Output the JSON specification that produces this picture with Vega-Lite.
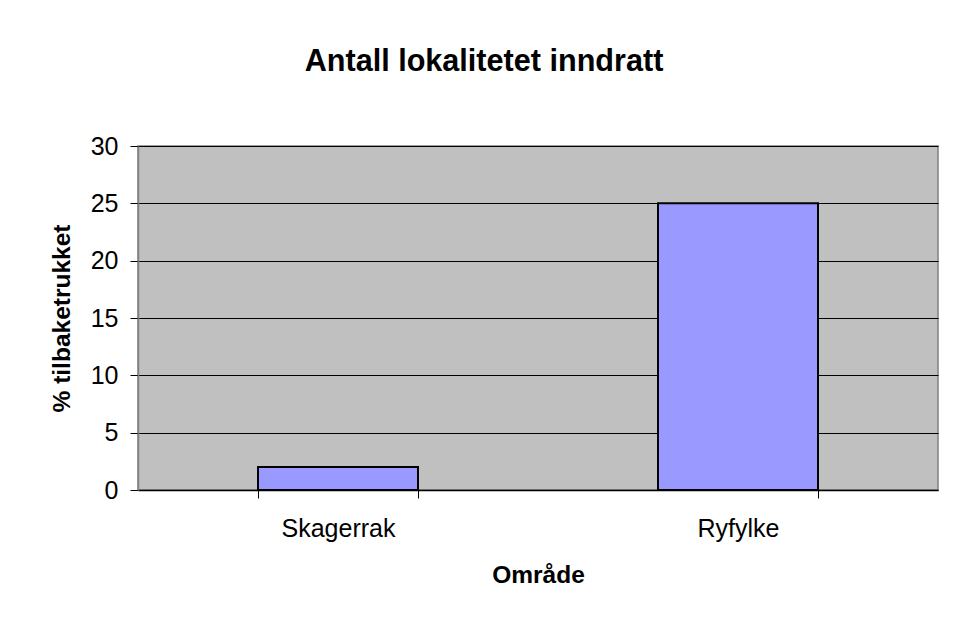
{
  "$schema": "https://vega.github.io/schema/vega-lite/v6.json",
  "autosize": "none",
  "width": 800,
  "height": 344,
  "padding": {"left": 138, "top": 146, "right": 24, "bottom": 132},
  "background": "white",
  "title": {
    "text": "Antall lokalitetet inndratt",
    "font": "Liberation Sans",
    "fontSize": 30.6,
    "fontWeight": "bold",
    "color": "black",
    "anchor": "middle",
    "dx": -54,
    "offset": 56
  },
  "config": {
    "view": {"fill": "#C0C0C0", "stroke": "#808080", "strokeWidth": 1.5},
    "axis": {
      "labelFont": "Liberation Sans",
      "titleFont": "Liberation Sans",
      "labelFontSize": 25,
      "titleFontSize": 24.5,
      "titleFontWeight": "bold",
      "labelColor": "black",
      "titleColor": "black",
      "tickColor": "black",
      "tickSize": 8,
      "domainColor": "black"
    }
  },
  "data": {
    "values": [
      {"omrade": "Skagerrak", "pct": 2},
      {"omrade": "Ryfylke", "pct": 25}
    ]
  },
  "mark": {"type": "bar", "color": "#9999FF", "stroke": "black", "strokeWidth": 2},
  "encoding": {
    "x": {
      "field": "omrade",
      "type": "nominal",
      "sort": null,
      "title": "Område",
      "scale": {"paddingInner": 0.6, "paddingOuter": 0.3},
      "axis": {"labelAngle": 0, "tickBand": "extent", "grid": false, "labelPadding": 18, "titlePadding": 22, "domainWidth": 1.5}
    },
    "y": {
      "field": "pct",
      "type": "quantitative",
      "title": "% tilbaketrukket",
      "scale": {"domain": [0, 30], "nice": false},
      "axis": {"values": [0, 5, 10, 15, 20, 25, 30], "grid": true, "gridColor": "black", "gridWidth": 1, "gridOpacity": 1, "labelPadding": 12, "titlePadding": 16, "domainColor": "#808080", "domainWidth": 1.5}
    }
  }
}
